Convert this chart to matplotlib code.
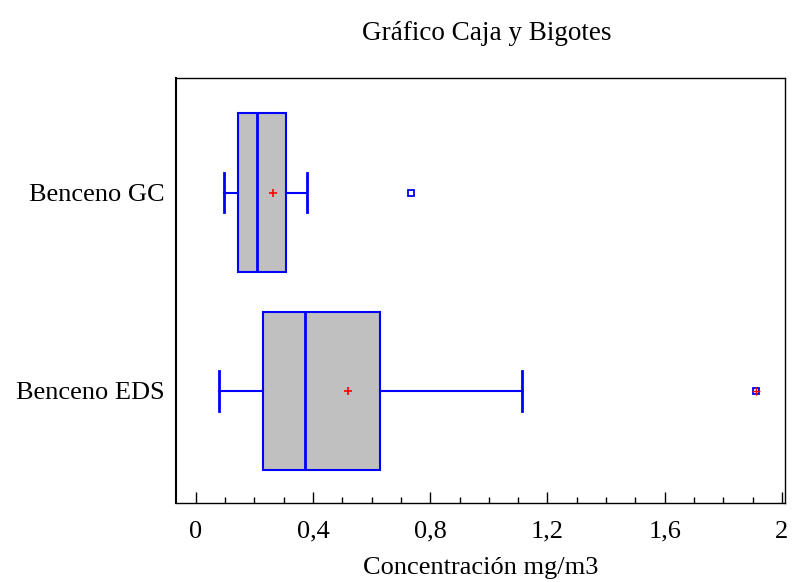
import matplotlib.pyplot as plt
from matplotlib.ticker import MultipleLocator, FuncFormatter

# Values (mg/m3).
labels = ["Benceno EDS", "Benceno GC"]
q1 = [0.229, 0.144]
median = [0.371, 0.210]
q3 = [0.630, 0.306]
whisker_lo = [0.078, 0.096]
whisker_hi = [1.113, 0.381]
means = [0.519, 0.263]
outliers = [[1.912], [0.735]]
far_outliers = [[1.912], []]  # drawn with an extra red cross

BLUE = "#0000ff"
GREY = "#c0c0c0"
FS = 19

plt.rcParams["font.family"] = ["Liberation Serif", "DejaVu Serif"]

fig = plt.figure(figsize=(7.96, 5.82), dpi=100)
ax = fig.add_axes([0.221, 0.136, 0.765, 0.730])

stats = []
for i, lab in enumerate(labels):
    stats.append({
        "label": lab, "q1": q1[i], "med": median[i], "q3": q3[i],
        "whislo": whisker_lo[i], "whishi": whisker_hi[i],
        "mean": means[i], "fliers": outliers[i],
    })

ax.bxp(stats, positions=[1, 2], vert=False, widths=0.8, patch_artist=True,
       showmeans=True, capwidths=0.2,
       boxprops=dict(facecolor=GREY, edgecolor=BLUE, linewidth=1.5),
       medianprops=dict(color=BLUE, linewidth=2),
       whiskerprops=dict(color=BLUE, linewidth=1.5),
       capprops=dict(color=BLUE, linewidth=2),
       meanprops=dict(marker="+", markeredgecolor="red", markersize=6,
                      markeredgewidth=1.2),
       flierprops=dict(marker="s", markerfacecolor="none",
                       markeredgecolor=BLUE, markersize=4.5,
                       markeredgewidth=1.3))

for i, pts in enumerate(far_outliers):
    if pts:
        ax.plot(pts, [i + 1] * len(pts), linestyle="none", marker="+",
                markeredgecolor="red", markersize=6, markeredgewidth=1.0)

ax.set_xlim(-0.068, 2.01)
ax.set_ylim(0.435, 2.578)
ax.set_yticks([1, 2])
ax.set_yticklabels(labels, fontsize=FS)
ax.tick_params(axis="y", length=0, pad=8)

ax.xaxis.set_major_locator(MultipleLocator(0.4))
ax.xaxis.set_minor_locator(MultipleLocator(0.1))
ax.xaxis.set_major_formatter(
    FuncFormatter(lambda v, p: f"{v:.1f}".rstrip("0").rstrip(".").replace(".", ",")))
ax.tick_params(axis="x", which="major", direction="in", length=8, width=1,
               labelsize=FS, pad=13)
ax.tick_params(axis="x", which="minor", direction="in", length=4, width=1)

for side in ax.spines:
    ax.spines[side].set_color("black")
    ax.spines[side].set_linewidth(1)
ax.spines["left"].set_linewidth(1.5)

ax.set_xlabel("Concentración mg/m3", fontsize=FS, labelpad=10)
fig.text(0.612, 0.943, "Gráfico Caja y Bigotes", ha="center", va="center",
         fontsize=19.5)

fig.savefig("out.png", facecolor="white")
